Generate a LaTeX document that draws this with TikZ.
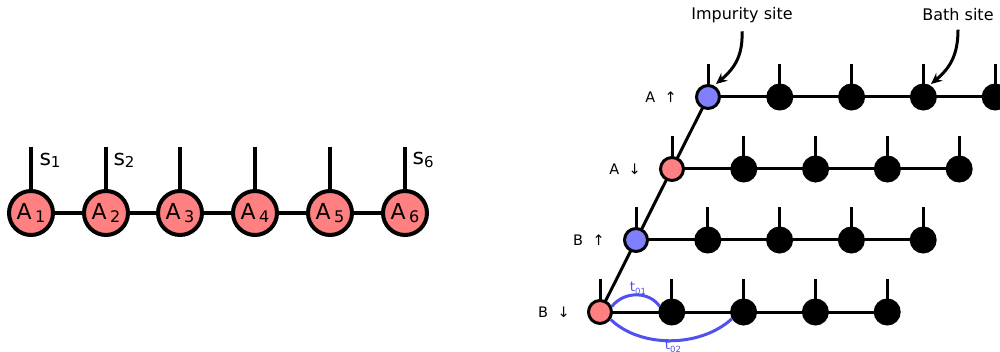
\documentclass[tikz,border=0pt]{standalone}
\usepackage{fontspec}
\setmainfont{DejaVu Sans}
\usetikzlibrary{arrows.meta}
\definecolor{pinkf}{RGB}{255,128,128}
\definecolor{bluef}{RGB}{128,128,255}
\definecolor{hopc}{RGB}{80,80,240}
\tikzset{
  bigsite/.style={circle,draw=black,line width=4pt,fill=pinkf,minimum size=44pt,inner sep=0pt,font=\fontsize{22}{22}\selectfont},
  impA/.style={circle,draw=black,line width=3pt,minimum size=23pt,inner sep=0pt},
  bath/.style={circle,draw=black,fill=black,line width=3pt,minimum size=24pt,inner sep=0pt},
  bigleg/.style={line width=4pt},
  leg/.style={line width=3pt},
  bond/.style={line width=3pt},
  slab/.style={anchor=west,font=\fontsize{22}{22}\selectfont},
  rowlab/.style={font=\fontsize{14.5}{14.5}\selectfont},
  titlelab/.style={font=\fontsize{16}{16}\selectfont},
  hop/.style={draw=hopc,line width=3pt},
  hoplab/.style={text=hopc,font=\fontsize{13.5}{13.5}\selectfont},
  pointer/.style={line width=3pt,-{Stealth[length=11pt,width=10pt]}},
}
\newcommand{\siteA}[1]{A\hspace{0.15em}\raisebox{-0.1em}{\fontsize{16}{16}\selectfont #1}}
\newcommand{\slabel}[1]{s\raisebox{-0.1em}{\fontsize{15}{15}\selectfont #1}}
\begin{document}
\begin{tikzpicture}[x=1pt,y=-1pt]
\useasboundingbox (0,0) rectangle (1000,352);
\clip (0,0) rectangle (1000,352);
% ---------- left MPS chain ----------
\foreach \i/\x in {1/31,2/106,3/180,4/255,5/330,6/405}{
  \coordinate (top\i) at (\x,147);
  \coordinate (c\i) at (\x,213);
}
\draw[bigleg] (c1) -- (c6);
\foreach \i in {1,...,6}{ \draw[bigleg] (top\i) -- (c\i); }
\foreach \i in {1,...,6}{ \node[bigsite] (A\i) at (c\i) {\siteA{\i}}; }
\node[slab] (s1) at (36,160) {\slabel{1}};
\node[slab] (s2) at (110,160) {\slabel{2}};
\node[slab] (s6) at (409,160) {\slabel{6}};
% ---------- right fork ----------
\foreach \r/\x/\y in {1/708/97,2/672/169,3/636/240,4/600/312}{
  \foreach \k in {0,...,4}{
    \coordinate (p\r\k) at ({\x+71.8*\k},\y);
    \coordinate (q\r\k) at ({\x+71.8*\k},{\y-33});
  }
}
% diagonal backbone
\draw[bond] (p10) -- (p40);
% horizontal bonds and legs
\foreach \r in {1,...,4}{
  \draw[bond] (p\r0) -- (p\r4);
  \foreach \k in {0,...,4}{ \draw[leg] (q\r\k) -- (p\r\k); }
}
% sites
\node[impA,fill=bluef] (I1) at (p10) {};
\node[impA,fill=pinkf] (I2) at (p20) {};
\node[impA,fill=bluef] (I3) at (p30) {};
\node[impA,fill=pinkf] (I4) at (p40) {};
\foreach \r in {1,...,4}{
  \foreach \k in {1,...,4}{ \node[bath] (b\r\k) at (p\r\k) {}; }
}
% row labels
\node[rowlab] (l1) at (661,97) {A\hspace{0.65em}↑};
\node[rowlab] (l2) at (625,169) {A\hspace{0.65em}↓};
\node[rowlab] (l3) at (589,240) {B\hspace{0.65em}↑};
\node[rowlab] (l4) at (554,312) {B\hspace{0.65em}↓};
% titles and pointers
\node[titlelab] (imp) at (742,15) {Impurity site};
\node[titlelab] (bat) at (958,15) {Bath site};
\coordinate (impTip) at (716,84);
\coordinate (batTip) at (931,84);
\draw[pointer] (imp.south) ++(0,5) .. controls (743,55) and (735,68) .. (impTip);
\draw[pointer] (bat.south) ++(0,5) .. controls (958,55) and (950,68) .. (batTip);
% hoppings
\draw[hop] (I4.25) .. controls (625,290) and (650,292) .. (b41.155);
\draw[hop] (I4.-35) .. controls (640,348) and (700,348) .. (b42.-150);
\node[hoplab] (t01) at (638,288) {t\raisebox{-0.2em}{\fontsize{8.5}{8.5}\selectfont 01}};
\node[hoplab] (t02) at (673,346) {t\raisebox{-0.2em}{\fontsize{8.5}{8.5}\selectfont 02}};
\end{tikzpicture}
\end{document}
